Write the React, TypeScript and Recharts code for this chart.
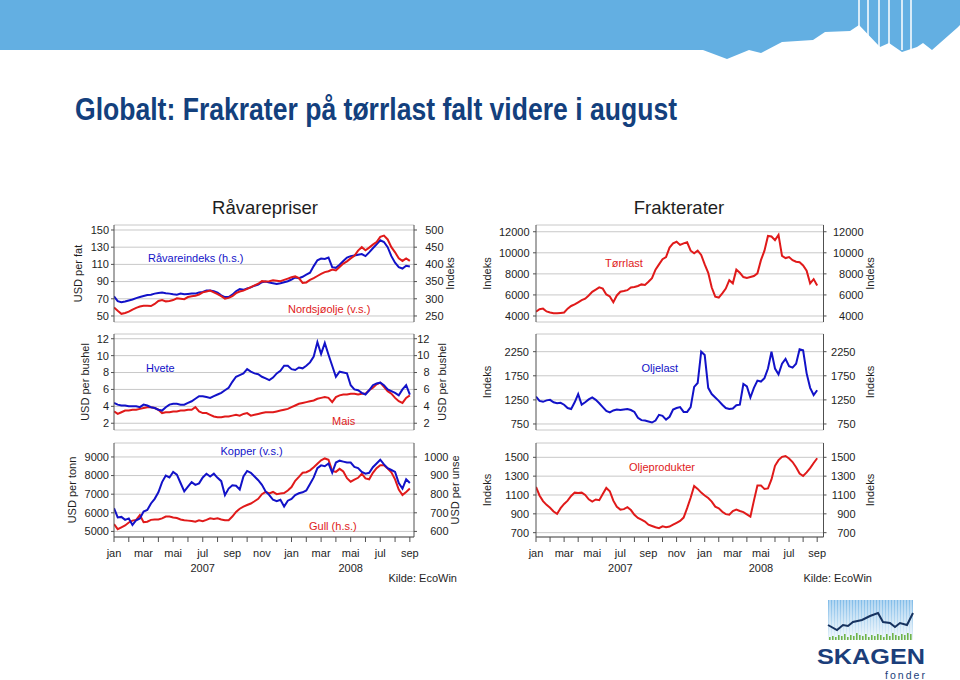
import { LineChart, Line, XAxis, YAxis, CartesianGrid } from 'recharts';

const FONT = '"Liberation Sans", Arial, Helvetica, sans-serif';
const INK = '#1e1e1e';
const FRAME = '#505050';
const GRID = '#c8c8c8';
const BLUE = '#1212c8';
const RED = '#e01a1a';
const NAVY = '#13407d';

// sample dates: months after 1 Jan 2007, roughly weekly
const months = Array.from({ length: 81 }, (_, i) => i / 4);
const monthTicks = [0, 1, 2, 3, 4, 5, 6, 7, 8, 9, 10, 11, 12, 13, 14, 15, 16, 17, 18, 19, 20];
const monthNames = ['jan', 'feb', 'mar', 'apr', 'mai', 'jun', 'jul', 'aug', 'sep', 'okt', 'nov', 'des'];
const yearLabels = [{ m: 6, label: '2007' }, { m: 16, label: '2008' }];

// Råvarepriser
const nordsjoolje = [
  60, 56, 52.5, 53.5, 55, 57.5, 59.5, 61, 62, 62,
  61.5, 64, 67.5, 68.5, 67, 67.5, 68.5, 70.5, 70, 69.5,
  72, 73, 73.5, 75, 77.5, 78.5, 79.5, 77.5, 75.5, 73,
  70, 71, 73, 76.5, 78.5, 79.5, 81.5, 83.5, 85.5, 87.5,
  90.5, 90, 90.5, 91.5, 91, 90.5, 92, 93.5, 95, 96,
  94, 88.5, 89, 92, 94, 96.5, 99, 101, 102, 104,
  103, 107, 111, 113.5, 117, 120, 126, 130, 126.5, 129.5,
  133, 136, 142, 143.5, 139, 130, 124, 117, 114, 117,
  114,
];
const ravareindeks = [
  307, 293, 290, 292, 295, 298, 302, 305, 308, 311,
  312, 315, 317, 318, 316, 315, 313, 312, 315, 313,
  314, 315, 315, 318, 320, 324, 324, 322, 318, 310,
  305, 305, 312, 322, 328, 326, 330, 333, 338, 341,
  348, 350, 347, 345, 343, 345, 348, 351, 356, 362,
  360, 364, 370, 376, 395, 412, 417, 416, 420, 392,
  390, 399, 410, 420, 424, 426, 428, 430, 424, 435,
  447, 458, 470, 465, 450, 424, 405, 392, 388, 396,
  394,
];
const hvete = [
  4.4, 4.2, 4.1, 4.1, 4.0, 4.0, 4.0, 3.9, 4.2, 4.1,
  3.9, 3.8, 3.6, 3.5, 3.9, 4.2, 4.3, 4.3, 4.2, 4.2,
  4.4, 4.6, 4.9, 5.2, 5.2, 5.1, 5.0, 5.2, 5.4, 5.6,
  5.9, 6.2, 6.9, 7.5, 7.7, 7.9, 8.4, 8.1, 7.9, 7.8,
  7.5, 7.3, 7.1, 7.4, 7.9, 8.2, 8.8, 8.8, 8.4, 8.3,
  8.6, 8.5, 8.8, 9.2, 9.9, 11.6, 10.2, 11.5, 10.1, 8.8,
  7.5, 8.1, 8.0, 7.9, 6.5, 6.0, 5.9, 5.6, 5.4, 5.9,
  6.5, 6.7, 6.8, 6.5, 6.0, 5.8, 5.6, 5.3, 6.0, 6.5,
  5.4,
];
const mais = [
  3.4, 3.1, 3.3, 3.5, 3.5, 3.6, 3.6, 3.7, 3.8, 3.9,
  3.9, 3.8, 3.6, 3.2, 3.3, 3.3, 3.4, 3.4, 3.5, 3.5,
  3.6, 3.6, 3.9, 3.4, 3.2, 3.2, 3.0, 2.8, 2.7, 2.7,
  2.8, 2.8, 2.9, 3.0, 2.9, 3.1, 3.2, 2.9, 3.0, 3.1,
  3.2, 3.3, 3.3, 3.3, 3.4, 3.5, 3.6, 3.7, 3.9, 4.1,
  4.3, 4.4, 4.5, 4.6, 4.7, 4.9, 5.0, 5.1, 5.0, 4.5,
  5.1, 5.3, 5.4, 5.4, 5.5, 5.5, 5.4, 5.5, 5.5, 5.9,
  6.2, 6.6, 6.8, 6.3, 5.8, 5.5, 5.0, 4.6, 4.4, 5.0,
  5.3,
];
const kopper = [
  6250, 5750, 5780, 5620, 5700, 5350, 5600, 5700, 6070, 6150,
  6500, 6750, 7100, 7650, 8000, 7900, 8200, 8050, 7600, 7150,
  7400, 7650, 7500, 7580, 7900, 8100, 7950, 8100, 7880, 7700,
  6950, 7300, 7480, 7450, 7250, 7950, 8250, 8150, 7950, 7750,
  7500, 7150, 6950, 6700, 6620, 6700, 6340, 6650, 6750, 6950,
  7050, 7100, 7200, 7550, 7900, 8400, 8550, 8500, 8650, 8150,
  8700, 8800, 8750, 8700, 8700, 8470, 8400, 8200, 8100, 8150,
  8450, 8650, 8850, 8600, 8400, 8300, 8200, 7600, 7300, 7800,
  7600,
];
const gull = [
  640, 612, 622, 632, 648, 658, 662, 688, 650, 652,
  662, 664, 664, 670, 680, 680, 675, 672, 664, 660,
  658, 656, 652, 660, 655, 662, 670, 667, 670, 664,
  660, 660, 680, 705, 722, 733, 742, 750, 762, 775,
  800, 812, 804, 812, 800, 804, 806, 820, 838, 872,
  893, 915, 918, 928, 945, 964, 982, 992, 985, 925,
  920, 936, 922, 886, 867, 878, 888, 910, 885, 880,
  915, 940, 956, 955, 938, 918, 880, 825, 795, 812,
  830,
];

// Frakterater
const torrlast = [
  4410, 4640, 4700, 4430, 4330, 4260, 4250, 4290, 4330, 4700,
  4950, 5100, 5300, 5500, 5650, 5950, 6300, 6500, 6720, 6600,
  6050, 5850, 5300, 5950, 6300, 6370, 6450, 6700, 6750, 6850,
  7000, 6950, 7250, 7600, 8400, 8900, 9400, 9600, 10500, 10900,
  11050, 10750, 10900, 11000, 10200, 9950, 10200, 9800, 8900, 8100,
  6700, 5830, 5750, 6150, 6600, 7400, 7100, 8400, 8100, 7700,
  7600, 7700, 7800, 8050, 9300, 10200, 11600, 11550, 11200, 11700,
  9700, 9500, 9600, 9300, 9150, 9100, 8800, 8300, 7100, 7500,
  6900,
];
const oljelast = [
  1320, 1230, 1210, 1240, 1250, 1200, 1180, 1190, 1150, 1080,
  1060, 1200, 1370, 1150, 1200, 1260, 1300, 1250, 1180, 1100,
  1020, 990, 1030, 1050, 1040, 1050, 1060, 1040, 1000, 880,
  830, 820, 800, 780, 820, 940, 920, 840, 900, 1050,
  1080, 1100, 1000, 1000, 1100, 1520, 1600, 2250, 2180, 1500,
  1370, 1300, 1230, 1150, 1080, 1060, 1070, 1140, 1150, 1580,
  1530, 1300, 1500, 1650, 1630, 1700, 1900, 2250, 1900, 1780,
  2000, 2100, 1950, 1920, 2000, 2300, 2280, 1800, 1500, 1350,
  1450,
];
const oljeprodukter = [
  1185, 1095, 1035, 995, 965, 925, 900, 960, 1005, 1040,
  1090, 1125, 1120, 1125, 1100, 1054, 1030, 1052, 1045, 1110,
  1175, 1140, 1040, 975, 945, 950, 970, 940, 890, 857,
  838, 818, 785, 771, 757, 748, 768, 758, 765, 785,
  805, 825, 860, 960, 1070, 1195, 1165, 1125, 1095, 1068,
  1030, 976, 959, 922, 897, 890, 930, 945, 930, 918,
  895, 870, 1040, 1200, 1200, 1165, 1170, 1265, 1410, 1470,
  1505, 1514, 1488, 1450, 1395, 1328, 1302, 1340, 1385, 1440,
  1490,
];

const rows = (a: number[], b?: number[]) =>
  months.map((m, i) => ({ m, a: a[i], b: b ? b[i] : null }));

const AW = 50; // width of each y axis box
const TOP = 4;

type AxisSpec = { domain: [number, number]; ticks: number[] };
type PanelProps = {
  x: number;
  y: number;
  w: number;
  h: number;
  xMax: number;
  data: any[];
  left: AxisSpec;
  right: AxisSpec;
  leftGap: number;
  rightEdge: number;
  lines: { key: string; color: string; axis: 'l' | 'r' }[];
  showMonths?: boolean;
};

const tickFont = { fontSize: 11, fill: INK, fontFamily: FONT };

function MonthTick(props: any) {
  const { x, y, payload } = props;
  const i = payload.value as number;
  const label = i % 2 === 0 ? monthNames[i % 12] : '';
  const year = yearLabels.find((yl) => yl.m === i);
  return (
    <g>
      <text x={x} y={y} dy={12.7} textAnchor="middle" {...tickFont}>{label}</text>
      {year && (
        <text x={x} y={y} dy={27.7} textAnchor="middle" {...tickFont}>{year.label}</text>
      )}
    </g>
  );
}

function Panel(p: PanelProps) {
  const xh = p.showMonths ? 42 : 0;
  const rightTick = (t: any) => (
    <text x={AW + p.w + p.rightEdge} y={t.y} dy="0.35em" textAnchor="end" {...tickFont}>
      {t.payload.value}
    </text>
  );
  return (
    <div style={{ position: 'absolute', left: p.x - AW, top: p.y - TOP }}>
      <LineChart
        width={p.w + 2 * AW}
        height={p.h + TOP + xh + 2}
        data={p.data}
        margin={{ top: TOP, right: 0, bottom: 2, left: 0 }}
      >
        <CartesianGrid yAxisId="l" vertical={false} stroke={GRID} />
        <XAxis
          type="number"
          dataKey="m"
          domain={[0, p.xMax]}
          allowDataOverflow
          ticks={p.showMonths ? monthTicks : []}
          interval={0}
          height={xh}
          axisLine={{ stroke: FRAME }}
          tickLine={p.showMonths ? { stroke: FRAME } : false}
          tickSize={5}
          tickMargin={2}
          tick={p.showMonths ? (t: any) => <MonthTick {...t} /> : false}
        />
        <XAxis
          xAxisId="top"
          orientation="top"
          type="number"
          dataKey="m"
          domain={[0, p.xMax]}
          allowDataOverflow
          height={0}
          tick={false}
          tickLine={false}
          axisLine={{ stroke: FRAME }}
        />
        <YAxis
          yAxisId="l"
          width={AW}
          domain={p.left.domain}
          ticks={p.left.ticks}
          interval={0}
          allowDataOverflow
          axisLine={{ stroke: FRAME }}
          tickLine={{ stroke: FRAME }}
          tickSize={3}
          tickMargin={p.leftGap - 3}
          tick={tickFont}
        />
        <YAxis
          yAxisId="r"
          orientation="right"
          width={AW}
          domain={p.right.domain}
          ticks={p.right.ticks}
          interval={0}
          allowDataOverflow
          axisLine={{ stroke: FRAME }}
          tickLine={{ stroke: FRAME }}
          tickSize={3}
          tick={rightTick}
        />
        {p.lines.map((s) => (
          <Line
            key={s.key}
            yAxisId={s.axis}
            type="linear"
            dataKey={s.key}
            stroke={s.color}
            strokeWidth={2}
            dot={false}
            isAnimationActive={false}
          />
        ))}
      </LineChart>
    </div>
  );
}

const LX = 113.5;
const LW = 300;
const RX = 535.5;
const RW = 287.5;

const axisTitles = [
  { x: 78, y: 273.5, t: 'USD per fat' },
  { x: 450, y: 273.5, t: 'Indeks' },
  { x: 85, y: 382, t: 'USD per bushel' },
  { x: 442, y: 382, t: 'USD per bushel' },
  { x: 72, y: 490, t: 'USD per tonn' },
  { x: 455.5, y: 490, t: 'USD per unse' },
  { x: 487, y: 273.5, t: 'Indeks' },
  { x: 870.5, y: 273.5, t: 'Indeks' },
  { x: 487, y: 382, t: 'Indeks' },
  { x: 870.5, y: 382, t: 'Indeks' },
  { x: 487, y: 490, t: 'Indeks' },
  { x: 870.5, y: 490, t: 'Indeks' },
];

const seriesLabels = [
  { x: 148, y: 262, t: 'Råvareindeks (h.s.)', c: BLUE },
  { x: 288, y: 313, t: 'Nordsjøolje (v.s.)', c: RED },
  { x: 146, y: 372, t: 'Hvete', c: BLUE },
  { x: 332, y: 425, t: 'Mais', c: RED },
  { x: 220.5, y: 455, t: 'Kopper (v.s.)', c: BLUE },
  { x: 309, y: 530, t: 'Gull (h.s.)', c: RED },
  { x: 605, y: 267, t: 'Tørrlast', c: RED },
  { x: 641.5, y: 372, t: 'Oljelast', c: BLUE },
  { x: 629, y: 471, t: 'Oljeprodukter', c: RED },
];

const logoBars = [3, 4, 3, 5, 4, 6, 3, 5, 4, 7, 5, 4, 6, 3, 5, 4, 6, 5, 3, 6, 4, 7, 5, 4, 6, 5, 7, 6];

function Overlay() {
  return (
    <svg
      width={960}
      height={680}
      style={{ position: 'absolute', left: 0, top: 0, pointerEvents: 'none' }}
    >
      <defs>
        <linearGradient id="logoSky" x1="0" y1="0" x2="0" y2="1">
          <stop offset="0" stopColor="#7fbbe8" />
          <stop offset="1" stopColor="#eaf4fb" />
        </linearGradient>
      </defs>
      <polygon
        fill="#63afe2"
        points="0,0 0,50 703,50 727,59 749,50 761,53 782,42 813,40 825,32 850,31 859,25 880,47 889,43 902,52 917,47 923,43 932,50 957,28 960,25 960,0"
      />
      {[859, 868, 879, 889, 902, 911].map((sx) => (
        <line key={sx} x1={sx} y1={0} x2={sx} y2={50} stroke="#fff" strokeWidth={1.5} />
      ))}
      <text
        x={75}
        y={120}
        fontFamily={FONT}
        fontWeight="bold"
        fontSize={31}
        fill={NAVY}
        textLength={602}
        lengthAdjust="spacingAndGlyphs"
      >
        Globalt: Frakrater på tørrlast falt videre i august
      </text>

      <text x={265} y={213.5} textAnchor="middle" fontFamily={FONT} fontSize={18.5} fill={INK}>
        Råvarepriser
      </text>
      <text x={679} y={213.5} textAnchor="middle" fontFamily={FONT} fontSize={18.5} fill={INK}>
        Frakterater
      </text>

      {axisTitles.map((a, i) => (
        <text
          key={i}
          x={a.x}
          y={a.y}
          dy="0.35em"
          textAnchor="middle"
          transform={`rotate(-90 ${a.x} ${a.y})`}
          fontFamily={FONT}
          fontSize={11}
          fill={INK}
        >
          {a.t}
        </text>
      ))}

      {seriesLabels.map((s, i) => (
        <text key={i} x={s.x} y={s.y} fontFamily={FONT} fontSize={11} fill={s.c}>
          {s.t}
        </text>
      ))}

      <text x={457} y={582} textAnchor="end" fontFamily={FONT} fontSize={11} fill={INK}>
        Kilde: EcoWin
      </text>
      <text x={872} y={582} textAnchor="end" fontFamily={FONT} fontSize={11} fill={INK}>
        Kilde: EcoWin
      </text>

      {/* SKAGEN logo */}
      <rect x={828} y={600} width={85} height={40} fill="url(#logoSky)" />
      {Array.from({ length: 28 }, (_, i) => (
        <line key={i} x1={830 + i * 3} y1={600} x2={830 + i * 3} y2={640} stroke="#fff" strokeWidth={0.8} />
      ))}
      {logoBars.map((hgt, i) => (
        <rect key={i} x={829 + i * 3} y={640 - hgt} width={1.6} height={hgt} fill="#6fb44a" />
      ))}
      <polyline
        fill="none"
        stroke="#16325f"
        strokeWidth={2}
        points="828,625 837,630 843,625 848,626 853,622 862,620 870,616 878,613 883,622 890,623 895,627 900,623 907,625 913,613"
      />
      <text
        x={817}
        y={664}
        fontFamily={FONT}
        fontWeight="bold"
        fontSize={22}
        fill="#1b3e7a"
        textLength={108}
        lengthAdjust="spacingAndGlyphs"
      >
        SKAGEN
      </text>
      <text
        x={885}
        y={679}
        fontFamily={FONT}
        fontSize={10.5}
        fill="#1b3e7a"
        textLength={40}
        lengthAdjust="spacing"
      >
        fonder
      </text>
    </svg>
  );
}

export default function App() {
  return (
    <div
      style={{
        position: 'absolute',
        left: 0,
        top: 0,
        width: 960,
        height: 680,
        background: '#fff',
        overflow: 'hidden',
        fontFamily: FONT,
      }}
    >
      <Panel
        x={LX} y={225} w={LW} h={97} xMax={20.28}
        data={rows(nordsjoolje, ravareindeks)}
        left={{ domain: [43, 155.8], ticks: [50, 70, 90, 110, 130, 150] }}
        right={{ domain: [232.5, 514.5], ticks: [250, 300, 350, 400, 450, 500] }}
        leftGap={5} rightEdge={29.5}
        lines={[{ key: 'b', color: BLUE, axis: 'r' }, { key: 'a', color: RED, axis: 'l' }]}
      />
      <Panel
        x={LX} y={334} w={LW} h={96} xMax={20.28}
        data={rows(hvete, mais)}
        left={{ domain: [1.2, 12.56], ticks: [2, 4, 6, 8, 10, 12] }}
        right={{ domain: [1.2, 12.56], ticks: [2, 4, 6, 8, 10, 12] }}
        leftGap={5} rightEdge={15.5}
        lines={[{ key: 'b', color: RED, axis: 'l' }, { key: 'a', color: BLUE, axis: 'l' }]}
      />
      <Panel
        x={LX} y={443} w={LW} h={94} xMax={20.28}
        data={rows(kopper, gull)}
        left={{ domain: [4700, 9750], ticks: [5000, 6000, 7000, 8000, 9000] }}
        right={{ domain: [570, 1075], ticks: [600, 700, 800, 900, 1000] }}
        leftGap={5} rightEdge={34.5}
        lines={[{ key: 'b', color: RED, axis: 'r' }, { key: 'a', color: BLUE, axis: 'l' }]}
        showMonths
      />
      <Panel
        x={RX} y={225} w={RW} h={97} xMax={20.45}
        data={rows(torrlast)}
        left={{ domain: [3430, 12640], ticks: [4000, 6000, 8000, 10000, 12000] }}
        right={{ domain: [3430, 12640], ticks: [4000, 6000, 8000, 10000, 12000] }}
        leftGap={6.5} rightEdge={40}
        lines={[{ key: 'a', color: RED, axis: 'l' }]}
      />
      <Panel
        x={RX} y={334} w={RW} h={96} xMax={20.45}
        data={rows(oljelast)}
        left={{ domain: [625, 2617], ticks: [750, 1250, 1750, 2250] }}
        right={{ domain: [625, 2617], ticks: [750, 1250, 1750, 2250] }}
        leftGap={7} rightEdge={32}
        lines={[{ key: 'a', color: BLUE, axis: 'l' }]}
      />
      <Panel
        x={RX} y={443} w={RW} h={94} xMax={20.45}
        data={rows(oljeprodukter)}
        left={{ domain: [654, 1652], ticks: [700, 900, 1100, 1300, 1500] }}
        right={{ domain: [654, 1652], ticks: [700, 900, 1100, 1300, 1500] }}
        leftGap={7} rightEdge={32}
        lines={[{ key: 'a', color: RED, axis: 'l' }]}
        showMonths
      />
      <Overlay />
    </div>
  );
}
